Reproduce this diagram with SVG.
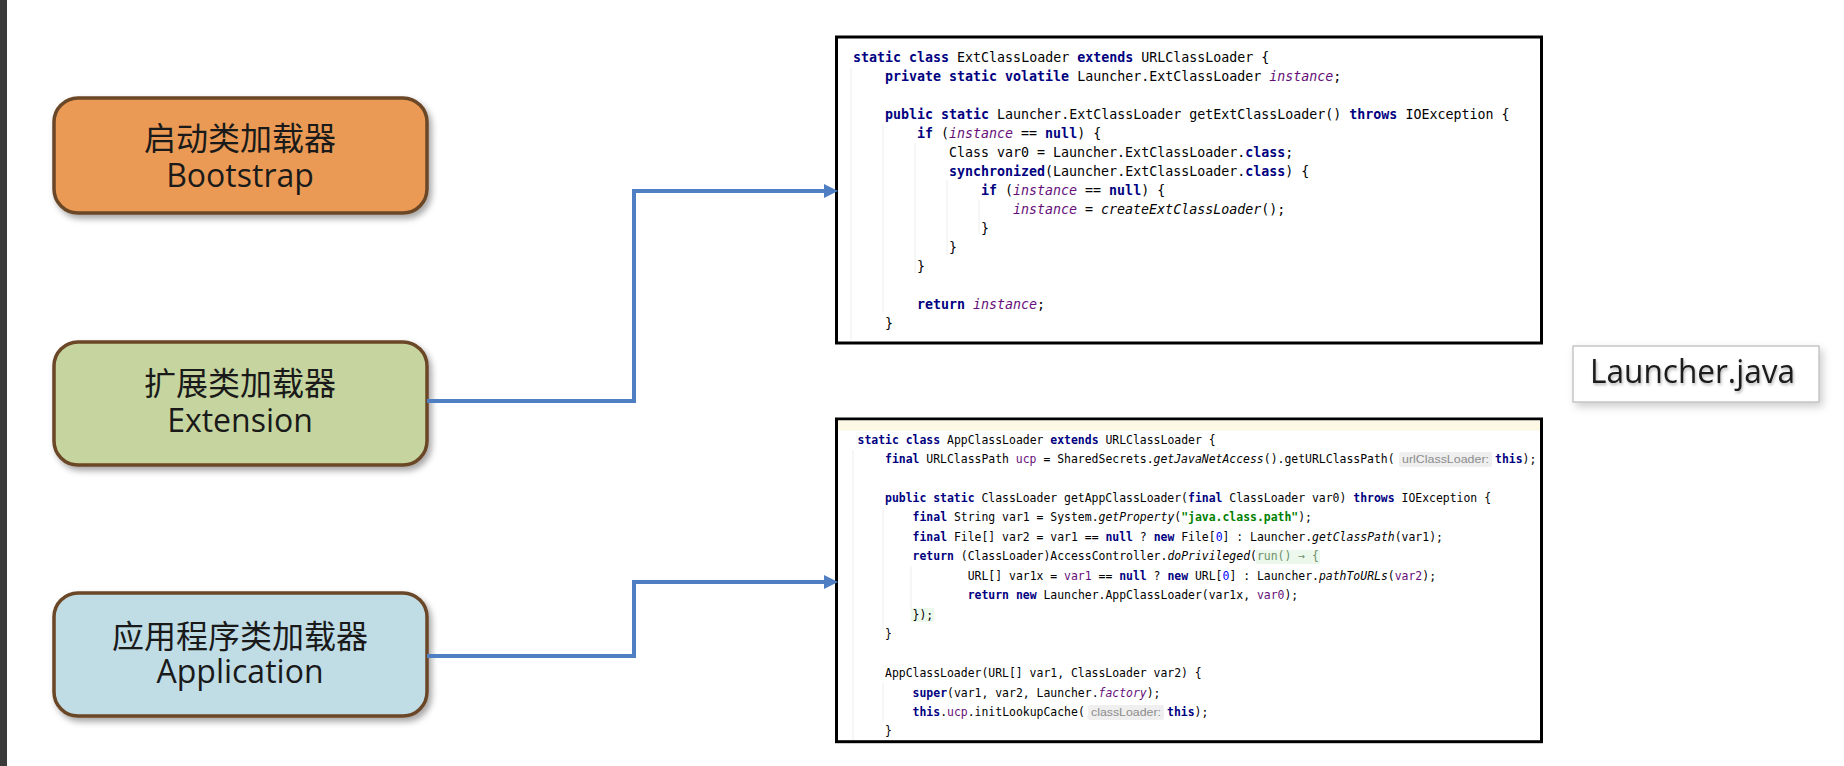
<svg xmlns="http://www.w3.org/2000/svg" width="1844" height="766" viewBox="0 0 1844 766">
<defs>
<filter id="sh" x="-10%" y="-10%" width="125%" height="135%">
<feDropShadow dx="3" dy="4" stdDeviation="3" flood-color="#000" flood-opacity="0.35"/>
</filter>
<filter id="sh2" x="-10%" y="-20%" width="125%" height="150%">
<feDropShadow dx="3" dy="4" stdDeviation="4" flood-color="#000" flood-opacity="0.2"/>
</filter>
<filter id="tsh" x="-5%" y="-20%" width="110%" height="150%">
<feDropShadow dx="1" dy="2" stdDeviation="1.5" flood-color="#000" flood-opacity="0.3"/>
</filter>
<marker id="arr" markerUnits="userSpaceOnUse" markerWidth="15" markerHeight="15" refX="2" refY="7" orient="auto">
<path d="M0,0 L14,7 L0,14 Z" fill="#4f7fc2"/>
</marker>
</defs>
<style>
.node{stroke:#6b4626;stroke-width:3.5;}
.lbl{font-family:"Open Sans","Noto Sans CJK SC",sans-serif;font-size:32px;fill:#1a1a1a;text-anchor:middle;}
.conn{fill:none;stroke:#4f7fc2;stroke-width:4;stroke-linejoin:miter;}
.code{font-family:"DejaVu Sans Mono","Liberation Mono",monospace;fill:#000;}
.c1{font-size:13.3px;}
.c2{font-size:11.44px;}
.k{fill:#000080;font-weight:bold;}
.fi{fill:#660e7a;font-style:italic;}
.f{fill:#660e7a;}
.i{font-style:italic;}
.s{fill:#008000;font-weight:bold;}
.n{fill:#0000ff;}
.lam{fill:#6b8f6b;}
.hint{font-family:"Liberation Sans",Arial,sans-serif;font-size:11.5px;fill:#8c8c8c;}
.guide{stroke:#ededed;stroke-width:1;}
</style>
<rect width="1844" height="766" fill="#ffffff"/>
<rect x="0" y="0" width="7" height="766" fill="#3a3a3a"/>

<g id="node-bootstrap">
<rect class="node" x="54" y="98" width="373" height="115" rx="24" fill="#eb9a54" filter="url(#sh)"/>
<text class="lbl"><tspan x="240" y="150">启动类加载器</tspan><tspan x="240" y="187">Bootstrap</tspan></text>
</g>
<g id="node-extension">
<rect class="node" x="54" y="342" width="373" height="123" rx="24" fill="#c6d59f" filter="url(#sh)"/>
<text class="lbl"><tspan x="240" y="395">扩展类加载器</tspan><tspan x="240" y="432">Extension</tspan></text>
</g>
<g id="node-application">
<rect class="node" x="54" y="593" width="373" height="123" rx="24" fill="#c0dde6" filter="url(#sh)"/>
<text class="lbl"><tspan x="240" y="648">应用程序类加载器</tspan><tspan x="240" y="683">Application</tspan></text>
</g>

<g id="node-launcher">
<rect x="1573" y="346" width="246" height="56" fill="#ffffff" stroke="#b8b8b8" stroke-width="1.2" filter="url(#sh2)"/>
<text x="1590" y="383" font-family="Open Sans, sans-serif" font-size="32" fill="#1a1a1a" textLength="205" lengthAdjust="spacingAndGlyphs" filter="url(#tsh)">Launcher.java</text>
</g>

<g id="node-ext-code">
<rect x="836.5" y="37" width="705" height="306" fill="#ffffff" stroke="#000" stroke-width="3"/>
<line class="guide" x1="851" y1="68" x2="851" y2="340"/>
<line class="guide" x1="883" y1="125" x2="883" y2="313"/>
<line class="guide" x1="915" y1="143" x2="915" y2="273"/>
<line class="guide" x1="947" y1="180" x2="947" y2="255"/>
<line class="guide" x1="979" y1="200" x2="979" y2="234"/>
<g class="code c1">
<text x="853" y="62"><tspan class="k">static class</tspan> ExtClassLoader <tspan class="k">extends</tspan> URLClassLoader {</text>
<text x="885" y="81"><tspan class="k">private static volatile</tspan> Launcher.ExtClassLoader <tspan class="fi">instance</tspan>;</text>
<text x="885" y="119"><tspan class="k">public static</tspan> Launcher.ExtClassLoader getExtClassLoader() <tspan class="k">throws</tspan> IOException {</text>
<text x="917" y="138"><tspan class="k">if</tspan> (<tspan class="fi">instance</tspan> == <tspan class="k">null</tspan>) {</text>
<text x="949" y="157">Class var0 = Launcher.ExtClassLoader.<tspan class="k">class</tspan>;</text>
<text x="949" y="176"><tspan class="k">synchronized</tspan>(Launcher.ExtClassLoader.<tspan class="k">class</tspan>) {</text>
<text x="981" y="195"><tspan class="k">if</tspan> (<tspan class="fi">instance</tspan> == <tspan class="k">null</tspan>) {</text>
<text x="1013" y="214"><tspan class="fi">instance</tspan> = <tspan class="i">createExtClassLoader</tspan>();</text>
<text x="981" y="233">}</text>
<text x="949" y="252">}</text>
<text x="917" y="271">}</text>
<text x="917" y="309"><tspan class="k">return</tspan> <tspan class="fi">instance</tspan>;</text>
<text x="885" y="328">}</text>
</g>
</g>

<g id="node-app-code">
<rect x="836.5" y="419" width="705" height="322.7" fill="#ffffff" stroke="#000" stroke-width="3"/>
<rect x="838" y="420.5" width="702" height="10" fill="#fcf8e4"/>
<line class="guide" x1="853" y1="450" x2="853" y2="740"/>
<line class="guide" x1="883" y1="508" x2="883" y2="630"/>
<line class="guide" x1="883" y1="683" x2="883" y2="722"/>
<line class="guide" x1="911" y1="566" x2="911" y2="610"/>
<rect x="1256" y="550" width="64" height="14" fill="#edf8ec"/>
<rect x="911" y="608" width="23" height="14" fill="#edf8ec"/>
<rect x="1399" y="452" width="93" height="15" rx="2" fill="#efefef"/>
<rect x="1088" y="705" width="76" height="15" rx="2" fill="#efefef"/>
<g class="code c2">
<text x="857.5" y="444"><tspan class="k">static class</tspan> AppClassLoader <tspan class="k">extends</tspan> URLClassLoader {</text>
<text x="885" y="463"><tspan class="k">final</tspan> URLClassPath <tspan class="f">ucp</tspan> = SharedSecrets.<tspan class="i">getJavaNetAccess</tspan>().getURLClassPath(</text>
<text x="1495" y="463"><tspan class="k">this</tspan>);</text>
<text x="885" y="502"><tspan class="k">public static</tspan> ClassLoader getAppClassLoader(<tspan class="k">final</tspan> ClassLoader var0) <tspan class="k">throws</tspan> IOException {</text>
<text x="912.6" y="521"><tspan class="k">final</tspan> String var1 = System.<tspan class="i">getProperty</tspan>(<tspan class="s">"java.class.path"</tspan>);</text>
<text x="912.6" y="541"><tspan class="k">final</tspan> File[] var2 = var1 == <tspan class="k">null</tspan> ? <tspan class="k">new</tspan> File[<tspan class="n">0</tspan>] : Launcher.<tspan class="i">getClassPath</tspan>(var1);</text>
<text x="912.6" y="560"><tspan class="k">return</tspan> (ClassLoader)AccessController.<tspan class="i">doPrivileged</tspan>(<tspan class="lam">run() → {</tspan></text>
<text x="967.7" y="580">URL[] var1x = <tspan class="f">var1</tspan> == <tspan class="k">null</tspan> ? <tspan class="k">new</tspan> URL[<tspan class="n">0</tspan>] : Launcher.<tspan class="i">pathToURLs</tspan>(<tspan class="f">var2</tspan>);</text>
<text x="967.7" y="599"><tspan class="k">return new</tspan> Launcher.AppClassLoader(var1x, <tspan class="f">var0</tspan>);</text>
<text x="912.6" y="619">});</text>
<text x="885" y="638">}</text>
<text x="885" y="677">AppClassLoader(URL[] var1, ClassLoader var2) {</text>
<text x="912.6" y="697"><tspan class="k">super</tspan>(var1, var2, Launcher.<tspan class="fi">factory</tspan>);</text>
<text x="912.6" y="716"><tspan class="k">this</tspan>.<tspan class="f">ucp</tspan>.initLookupCache(</text>
<text x="1167" y="716"><tspan class="k">this</tspan>);</text>
<text x="885" y="735">}</text>
</g>
<text class="hint" x="1402" y="463" textLength="87" lengthAdjust="spacingAndGlyphs">urlClassLoader:</text>
<text class="hint" x="1091" y="716" textLength="70" lengthAdjust="spacingAndGlyphs">classLoader:</text>
</g>

<g id="connectors">
<path class="conn" d="M427,401 H634 V191 H826" marker-end="url(#arr)"/>
<path class="conn" d="M427,656 H634 V582 H826" marker-end="url(#arr)"/>
</g>
</svg>
